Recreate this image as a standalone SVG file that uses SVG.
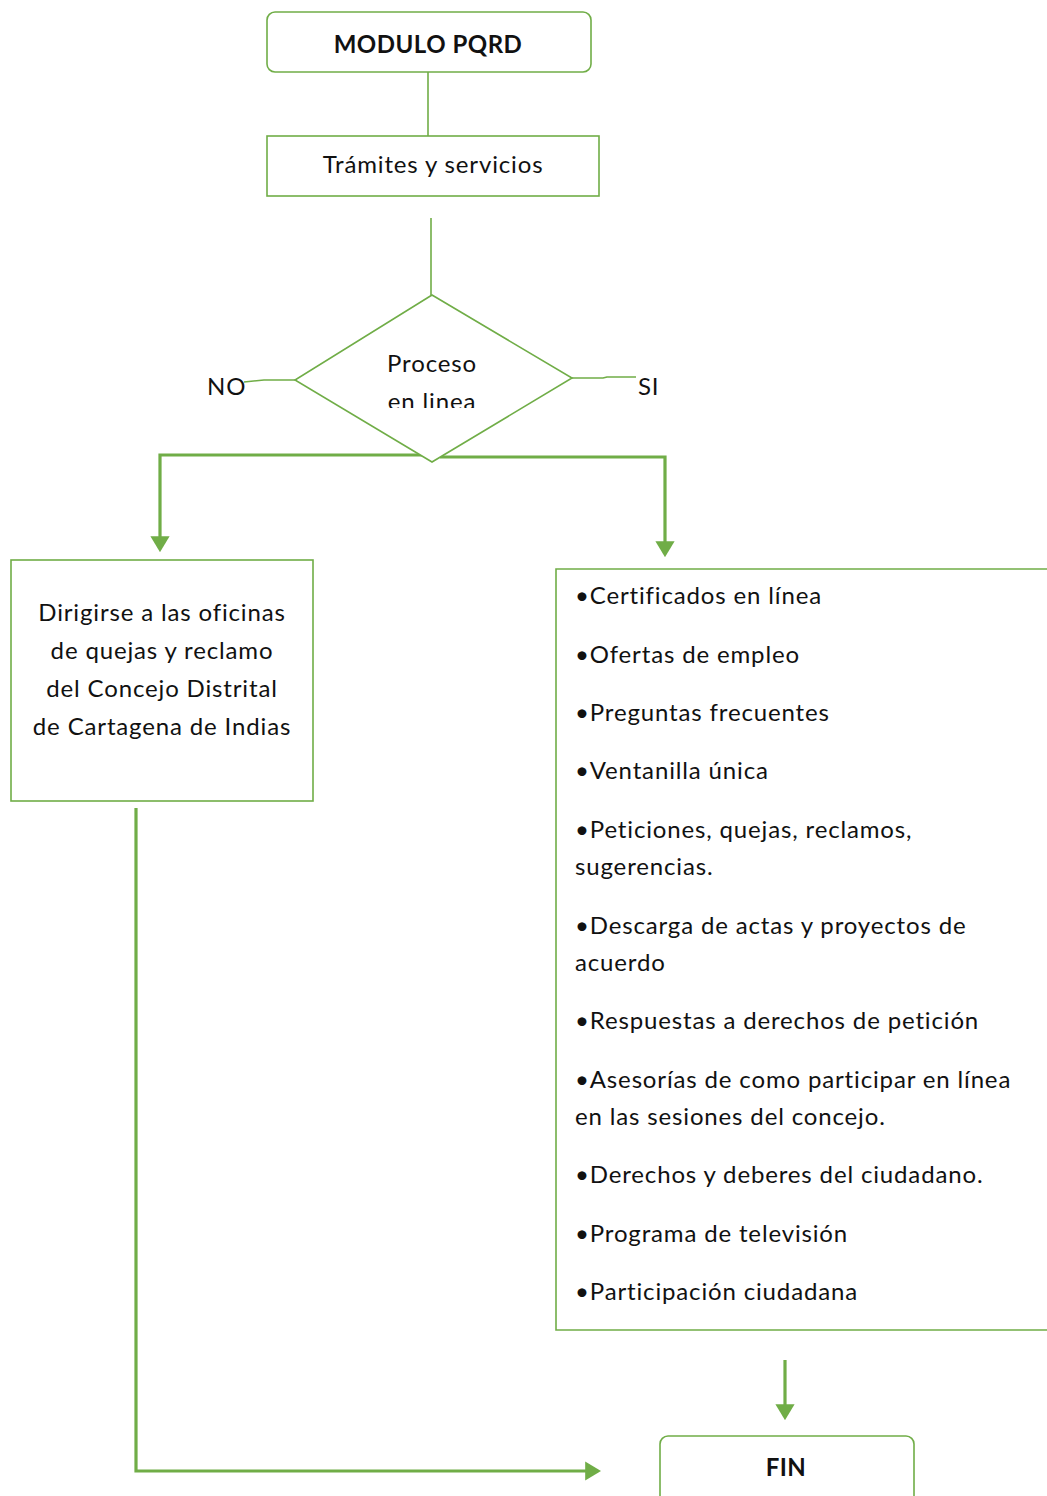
<svg xmlns="http://www.w3.org/2000/svg" width="1047" height="1496" viewBox="0 0 1047 1496">
<style>
.box{fill:#fff;stroke:#70AD47;stroke-width:1.6}
.ln{fill:none;stroke:#70AD47;stroke-width:1.6}
.thk{fill:none;stroke:#70AD47;stroke-width:3.2}
.t{font-family:Lato,"Liberation Sans",sans-serif;font-size:24px;letter-spacing:0.85px;fill:#111}
.c{text-anchor:middle}
.b{font-weight:bold;letter-spacing:0.5px}
</style>
<defs>
<marker id="ah" markerWidth="5" markerHeight="6" refX="4" refY="3" orient="auto" markerUnits="strokeWidth">
<path d="M0,0 L5,3 L0,6 z" fill="#70AD47"/>
</marker>
<clipPath id="dc"><rect x="300" y="340" width="270" height="68"/></clipPath>
</defs>
<rect width="1047" height="1496" fill="#fff"/>
<g id="connectors">
<line class="ln" x1="428" y1="72" x2="428" y2="136"/>
<line class="ln" x1="431" y1="218" x2="431" y2="295"/>
<polyline class="ln" points="295,380 264,380 244,382"/>
<polyline class="ln" points="572,378 603,378 607,377 636,377"/>
<polyline class="thk" points="432,455 160,455 160,549" marker-end="url(#ah)"/>
<polyline class="thk" points="440,457 665,457 665,554" marker-end="url(#ah)"/>
<polyline class="thk" points="136,808 136,1471 598,1471" marker-end="url(#ah)"/>
<line class="thk" x1="785" y1="1360" x2="785" y2="1417" marker-end="url(#ah)"/>
</g>
<g id="modulo">
<rect class="box" x="267" y="12" width="324" height="60" rx="8"/>
<text class="t c b" x="428" y="53">MODULO PQRD</text>
</g>
<g id="tramites">
<rect class="box" x="267" y="136" width="332" height="60"/>
<text class="t c" x="433" y="173">Trámites y servicios</text>
</g>
<g id="decision">
<polygon class="box" points="432,295 572,378 432,462 295,380"/>
<text class="t c" x="432" y="372">Proceso</text>
<text class="t c" x="432" y="410" clip-path="url(#dc)">en linea</text>
<text class="t" x="207" y="395">NO</text>
<text class="t" x="638" y="395">SI</text>
</g>
<g id="oficinas">
<rect class="box" x="11" y="560" width="302" height="241"/>
<text class="t c" x="162" y="621">Dirigirse a las oficinas</text>
<text class="t c" x="162" y="659">de quejas y reclamo</text>
<text class="t c" x="162" y="697">del Concejo Distrital</text>
<text class="t c" x="162" y="735">de Cartagena de Indias</text>
</g>
<g id="servicios">
<path class="ln" d="M1047,569 H556 V1330 H1047"/>
<text class="t" x="575" y="604">•Certificados en línea</text>
<text class="t" x="575" y="663">•Ofertas de empleo</text>
<text class="t" x="575" y="721">•Preguntas frecuentes</text>
<text class="t" x="575" y="779">•Ventanilla única</text>
<text class="t" x="575" y="838">•Peticiones, quejas, reclamos,</text>
<text class="t" x="575" y="875">sugerencias.</text>
<text class="t" x="575" y="934">•Descarga de actas y proyectos de</text>
<text class="t" x="575" y="971">acuerdo</text>
<text class="t" x="575" y="1029">•Respuestas a derechos de petición</text>
<text class="t" x="575" y="1088">•Asesorías de como participar en línea</text>
<text class="t" x="575" y="1125">en las sesiones del concejo.</text>
<text class="t" x="575" y="1183">•Derechos y deberes del ciudadano.</text>
<text class="t" x="575" y="1242">•Programa de televisión</text>
<text class="t" x="575" y="1300">•Participación ciudadana</text>
</g>
<g id="fin">
<rect class="box" x="660" y="1436" width="254" height="80" rx="8"/>
<text class="t c b" x="786" y="1476">FIN</text>
</g>
</svg>
